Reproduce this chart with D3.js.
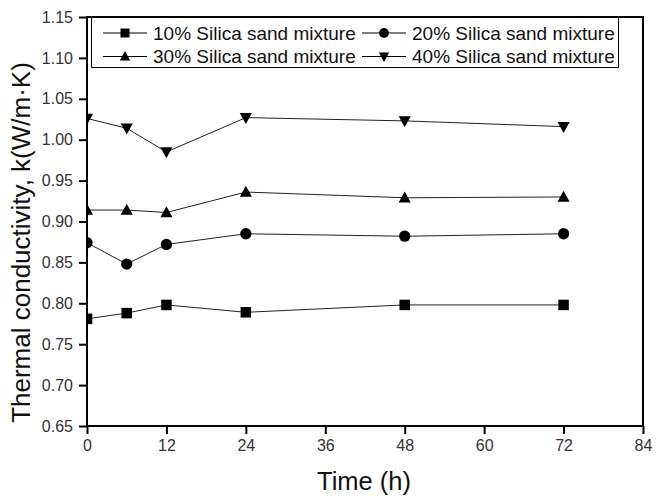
<!DOCTYPE html>
<html><head><meta charset="utf-8">
<script src="https://cdn.jsdelivr.net/npm/d3@7"></script>
<style>body{margin:0;background:#fff;} text{font-family:"Liberation Sans",Arial,sans-serif;}</style>
</head><body>
<script>
const times = [0, 6, 12, 24, 48, 72];
const seriesNames = ["10% Silica sand mixture","20% Silica sand mixture","30% Silica sand mixture","40% Silica sand mixture"];
const s10 = [0.781, 0.788, 0.798, 0.789, 0.798, 0.798];
const s20 = [0.874, 0.848, 0.872, 0.885, 0.882, 0.885];
const s30 = [0.914, 0.914, 0.911, 0.936, 0.929, 0.930];
const s40 = [1.026, 1.014, 0.985, 1.027, 1.023, 1.016];
const symbols = ["square","circle","up","down"];
const xTicks = [0,12,24,36,48,60,72,84];
const yTicks = [0.65,0.70,0.75,0.80,0.85,0.90,0.95,1.00,1.05,1.10,1.15];
const allSeries = [s10, s20, s30, s40];

const W=659,H=496;
const L=87,R=643,T=17,B=426;
const svg=d3.select("body").append("svg").attr("width",W).attr("height",H);
const x=d3.scaleLinear().domain([0,84]).range([L,R]);
const y=d3.scaleLinear().domain([0.65,1.15]).range([B,T]);

function marker(g, type, cx, cy, s){
  if(type==="square"){
    g.append("rect").attr("x",cx-s/2).attr("y",cy-s/2).attr("width",s).attr("height",s).attr("fill","#000");
  } else if(type==="circle"){
    g.append("circle").attr("cx",cx).attr("cy",cy).attr("r",s/2+0.4).attr("fill","#000");
  } else if(type==="up"){
    const h=s*1.0, w=s*1.15;
    g.append("path").attr("d",`M${cx},${cy-h*0.6}L${cx+w/2},${cy+h*0.45}L${cx-w/2},${cy+h*0.45}Z`).attr("fill","#000");
  } else {
    const h=s*1.0, w=s*1.15;
    g.append("path").attr("d",`M${cx},${cy+h*0.6}L${cx+w/2},${cy-h*0.45}L${cx-w/2},${cy-h*0.45}Z`).attr("fill","#000");
  }
}

svg.append("defs").append("clipPath").attr("id","clip").append("rect")
  .attr("x",L+1).attr("y",T).attr("width",R-L).attr("height",B-T);

const plot=svg.append("g").attr("clip-path","url(#clip)");
const line=d3.line().x((d,i)=>x(times[i])).y(d=>y(d));
allSeries.forEach((s,k)=>{
  plot.append("path").attr("d",line(s)).attr("fill","none").attr("stroke","#222").attr("stroke-width",1);
  s.forEach((v,i)=>marker(plot,symbols[k],x(times[i]),y(v),10.5));
});

// axes
const xAxis=svg.append("g").attr("transform",`translate(0,${B})`)
  .call(d3.axisBottom(x).tickValues(xTicks).tickFormat(d3.format("d")).tickSize(8).tickPadding(6));
const yAxis=svg.append("g").attr("transform",`translate(${L},0)`)
  .call(d3.axisLeft(y).tickValues(yTicks).tickFormat(d3.format(".2f")).tickSize(8).tickPadding(6));
[xAxis,yAxis].forEach(a=>{
  a.select(".domain").remove();
  a.selectAll(".tick line").attr("stroke","#000").attr("stroke-width",2);
  a.selectAll(".tick text").attr("fill","#333").style("font-size","16px").style("font-family","'Liberation Sans',Arial,sans-serif");
});
// frame
svg.append("rect").attr("x",L).attr("y",T).attr("width",R-L).attr("height",B-T)
  .attr("fill","none").attr("stroke","#000").attr("stroke-width",2);

// axis titles
svg.append("text").attr("x",(L+R)/2-1).attr("y",496-6).attr("text-anchor","middle")
  .style("font-size","25.5px").attr("fill","#111").text("Time (h)");
svg.append("text").attr("transform",`translate(30,${(T+B)/2+21}) rotate(-90)`).attr("text-anchor","middle")
  .style("font-size","26px").attr("fill","#111").text("Thermal conductivity, k(W/m·K)");

// legend
const lg=svg.append("g");
lg.append("rect").attr("x",91.5).attr("y",17.5).attr("width",527).attr("height",50)
  .attr("fill","#fff").attr("stroke","#000").attr("stroke-width",1);
const cols=[103,362], rows=[33,56.5];
seriesNames.forEach((n,k)=>{
  const cx=cols[k%2], cy=rows[Math.floor(k/2)];
  lg.append("line").attr("x1",cx).attr("x2",cx+44).attr("y1",cy).attr("y2",cy).attr("stroke","#000").attr("stroke-width",1);
  marker(lg,symbols[k],cx+22,cy,9);
  lg.append("text").attr("x",cx+50).attr("y",cy).attr("dy","0.35em").style("font-size","19px").attr("fill","#111").text(n);
});
</script>
</body></html>
